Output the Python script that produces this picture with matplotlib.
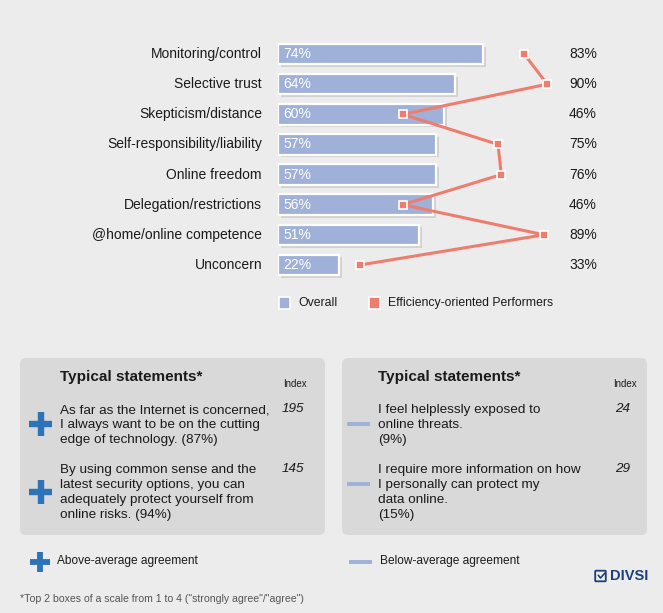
import matplotlib.pyplot as plt
import matplotlib.patheffects as pe
from matplotlib.patches import FancyBboxPatch, Rectangle
from matplotlib.transforms import blended_transform_factory

plt.rcParams['font.family'] = ['Liberation Sans', 'DejaVu Sans']

categories = ["Monitoring/control", "Selective trust", "Skepticism/distance",
              "Self-responsibility/liability", "Online freedom",
              "Delegation/restrictions", "@home/online competence", "Unconcern"]
overall = [74, 64, 60, 57, 57, 56, 51, 22]
performers = [83, 90, 46, 75, 76, 46, 89, 33]

left_statements = ["As far as the Internet is concerned,\nI always want to be on the cutting\nedge of technology. (87%)",
                   "By using common sense and the\nlatest security options, you can\nadequately protect yourself from\nonline risks. (94%)"]
left_index = [195, 145]
right_statements = ["I feel helplessly exposed to\nonline threats.\n(9%)",
                    "I require more information on how\nI personally can protect my\ndata online.\n(15%)"]
right_index = [24, 29]

BG = "#ececec"
BOX = "#d9d9d9"
BAR = "#9fb0d9"
RED = "#ef7d6e"
PLUS = "#2e72b8"
TXT = "#1a1a1a"

W, H = 663, 613
fig = plt.figure(figsize=(W / 100, H / 100), dpi=100, facecolor=BG)

# background axes in pixel coordinates
bg = fig.add_axes([0, 0, 1, 1])
bg.set_xlim(0, W)
bg.set_ylim(H, 0)
bg.axis("off")

# bar chart axes: value 0 at x=278px, 2.77 px per percent
x0, x1 = 278, 278 + 277
y_top, y_bot = 39, 280
ax = fig.add_axes([x0 / W, 1 - y_bot / H, (x1 - x0) / W, (y_bot - y_top) / H])
ax.patch.set_alpha(0)
ax.set_xlim(0, 100)
ax.set_ylim(len(categories) - 0.5, -0.5)
ax.axis("off")

ypos = list(range(len(categories)))
bars = ax.barh(ypos, overall, height=0.68, color=BAR, edgecolor="white", linewidth=1.6, zorder=2)
for b in bars:
    b.set_path_effects([pe.SimplePatchShadow(offset=(2, -2), shadow_rgbFace="#b8b8b8", alpha=0.5), pe.Normal()])
for y, v in zip(ypos, overall):
    ax.text(2, y, f"{v}%", color="white", fontsize=10, va="center", ha="left", zorder=3)

lab_tr = blended_transform_factory(fig.transFigure, ax.transData)
for y, c, p in zip(ypos, categories, performers):
    ax.text(262 / W, y, c, transform=lab_tr, ha="right", va="center", fontsize=10, color=TXT)
    ax.text(583 / W, y, f"{p}%", transform=lab_tr, ha="center", va="center", fontsize=10, color=TXT)

# line series on its own scale: 0 at x=252px, 3.28 px per percent
ax2 = ax.twiny()
ax2.set_xlim((x0 - 252) / 3.28, (x1 - 252) / 3.28)
ax2.axis("off")
ax2.plot(performers, ypos, color=RED, lw=2.2, zorder=4, clip_on=False,
         marker="s", markersize=6, markerfacecolor=RED, markeredgecolor="white", markeredgewidth=1.2)

# legend
bg.add_patch(Rectangle((279, 297), 11, 12, facecolor=BAR, edgecolor="white", lw=1.2))
bg.text(298, 303, "Overall", fontsize=8.8, va="center", color=TXT)
bg.add_patch(Rectangle((369, 297), 11, 12, facecolor=RED, edgecolor="white", lw=1.2))
bg.text(388, 303, "Efficiency-oriented Performers", fontsize=8.8, va="center", color=TXT)

# statement boxes
for bx in (20, 342):
    bg.add_patch(FancyBboxPatch((bx + 6, 364), 305 - 12, 177 - 12,
                                boxstyle="round,pad=6", facecolor=BOX, edgecolor="none"))
    bg.text(bx + 40 if bx == 20 else bx + 36, 377, "Typical statements*", fontsize=11,
            fontweight="bold", va="center", color=TXT)
    bg.text(bx + 263 if bx == 20 else bx + 271, 384, "Index", fontsize=7, va="center", color=TXT)

stmt_y = [409, 469]
for i, (s, idx) in enumerate(zip(left_statements, left_index)):
    bg.text(60, stmt_y[i] - 4.5, s, fontsize=9.7, va="top", ha="left", color=TXT, linespacing=1.32)
    bg.text(293, stmt_y[i], str(idx), fontsize=9.7, style="italic", va="center", ha="center", color=TXT)
    n = s.count("\n") + 1
    cy = stmt_y[i] + (n - 1) * 15.3 / 2
    bg.plot([29, 52], [cy, cy], color=PLUS, lw=4.6, solid_capstyle="butt")
    bg.plot([40.5, 40.5], [cy - 12, cy + 12], color=PLUS, lw=4.6, solid_capstyle="butt")

dash_y = [424, 484]
for i, (s, idx) in enumerate(zip(right_statements, right_index)):
    bg.text(378, stmt_y[i] - 4.5, s, fontsize=9.7, va="top", ha="left", color=TXT, linespacing=1.32)
    bg.text(623, stmt_y[i], str(idx), fontsize=9.7, style="italic", va="center", ha="center", color=TXT)
    bg.plot([347, 370], [dash_y[i], dash_y[i]], color=BAR, lw=2.8, solid_capstyle="butt")

# agreement legend
bg.plot([30, 50], [562, 562], color=PLUS, lw=4.2, solid_capstyle="butt")
bg.plot([40, 40], [552, 572], color=PLUS, lw=4.2, solid_capstyle="butt")
bg.text(57, 561, "Above-average agreement", fontsize=8.6, va="center", color=TXT)
bg.plot([349, 372], [562, 562], color=BAR, lw=2.8, solid_capstyle="butt")
bg.text(380, 561, "Below-average agreement", fontsize=8.6, va="center", color=TXT)

# DIVSI logo
NAVY = "#1d3f7a"
bg.add_patch(FancyBboxPatch((596, 571.5), 9, 9, boxstyle="round,pad=0.8",
                            facecolor="none", edgecolor=NAVY, lw=1.3))
bg.plot([598.5, 600.5, 604.5], [575.5, 578, 573.5], color=NAVY, lw=1.2)
bg.text(610, 576.5, "DIVSI", fontsize=10.5, fontweight="bold", va="center", color=NAVY)

bg.text(20, 599, "*Top 2 boxes of a scale from 1 to 4 (\"strongly agree\"/\"agree\")",
        fontsize=7.6, va="center", color="#555555")

fig.savefig("out.png", dpi=100, facecolor=BG)
